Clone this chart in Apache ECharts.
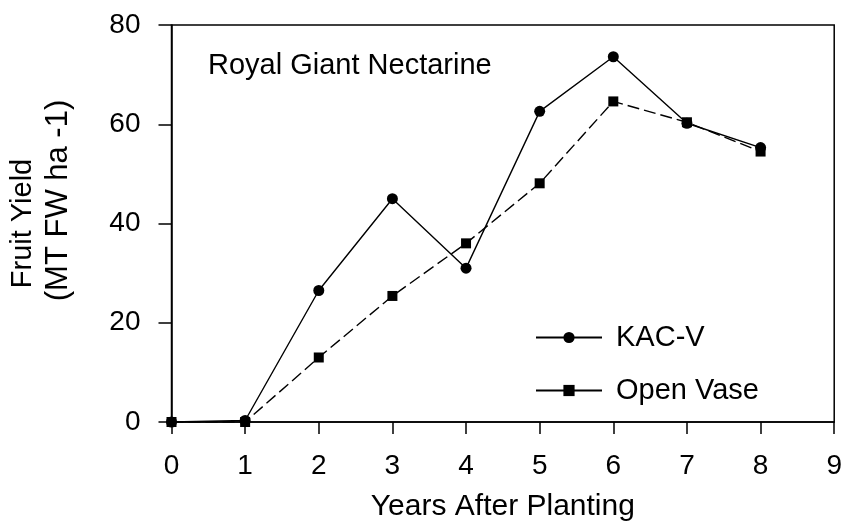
<!DOCTYPE html>
<html>
<head>
<meta charset="utf-8">
<script src="https://cdn.jsdelivr.net/npm/echarts@6/dist/echarts.min.js"></script>
<style>
html,body{margin:0;padding:0;background:#fff;}
#chart{width:845px;height:527px;}
</style>
</head>
<body>
<div id="chart"></div>
<script>
var years = [0, 1, 2, 3, 4, 5, 6, 7, 8];
var kacV = [0, 0.3, 26.5, 45, 31, 62.6, 73.6, 60.2, 55.3];
var openVase = [0, 0, 13, 25.4, 36, 48.1, 64.6, 60.4, 54.5];
var seriesNames = ['KAC-V', 'Open Vase'];
var titleText = 'Royal Giant Nectarine';
var xTitle = 'Years After Planting';
var yTitleLines = ['Fruit Yield', '(MT FW ha -1)'];

function pairs(xs, ys) { return xs.map(function (x, i) { return [x, ys[i]]; }); }

var FONT = '"Liberation Sans", Arial, sans-serif';
var chart = echarts.init(document.getElementById('chart'), null, {renderer: 'canvas'});
chart.setOption({
  animation: false,
  backgroundColor: '#fff',
  title: {
    text: titleText, left: 203, top: 46,
    textStyle: {fontFamily: FONT, fontSize: 29, fontWeight: 'normal', color: '#000'}
  },
  grid: {
    left: 167, right: 7, top: 25, bottom: 99,
    show: true, borderColor: '#000', borderWidth: 1.5, backgroundColor: 'transparent'
  },
  legend: {
    orient: 'vertical', left: 530, top: 318,
    itemWidth: 66, itemHeight: 14, itemGap: 24,
    lineStyle: {type: 'solid'},
    textStyle: {fontFamily: FONT, fontSize: 29, color: '#000', lineHeight: 28, padding: [0, 0, 0, 9]},
    data: seriesNames
  },
  xAxis: {
    type: 'value', min: 0, max: 9, interval: 1,
    name: xTitle, nameLocation: 'middle', nameGap: 70,
    nameTextStyle: {fontFamily: FONT, fontSize: 30, color: '#000'},
    axisLine: {show: true, onZero: false, lineStyle: {color: '#000', width: 1.5}},
    axisTick: {show: true, inside: false, length: 12, lineStyle: {color: '#000', width: 1.5}},
    axisLabel: {fontFamily: FONT, fontSize: 28, color: '#000', margin: 30},
    splitLine: {show: false}
  },
  yAxis: {
    type: 'value', min: 0, max: 80, interval: 20,
    name: '{a|' + yTitleLines[0] + '}\n{b|' + yTitleLines[1] + '}',
    nameLocation: 'middle', nameGap: 95, nameRotate: 90,
    nameTextStyle: {
      fontFamily: FONT, color: '#000', align: 'center',
      rich: {
        a: {fontFamily: FONT, fontSize: 29, color: '#000', lineHeight: 36},
        b: {fontFamily: FONT, fontSize: 31, color: '#000', lineHeight: 36, padding: [0, 0, 0, 46]}
      }
    },
    axisLine: {show: true, onZero: false, lineStyle: {color: '#000', width: 1.5}},
    axisTick: {show: true, inside: false, length: 13, lineStyle: {color: '#000', width: 1.5}},
    axisLabel: {fontFamily: FONT, fontSize: 28, color: '#000', margin: 31},
    splitLine: {show: false}
  },
  series: [
    {
      name: seriesNames[0], type: 'line', data: pairs(years, kacV),
      symbol: 'circle', symbolSize: 11,
      itemStyle: {color: '#000'},
      lineStyle: {color: '#000', width: 1.4, type: 'solid'},
      z: 3
    },
    {
      name: seriesNames[1], type: 'line', data: pairs(years, openVase),
      symbol: 'rect', symbolSize: 10,
      itemStyle: {color: '#000'},
      lineStyle: {color: '#000', width: 1.4, type: [12, 5]},
      z: 2
    }
  ]
});
</script>
</body>
</html>
